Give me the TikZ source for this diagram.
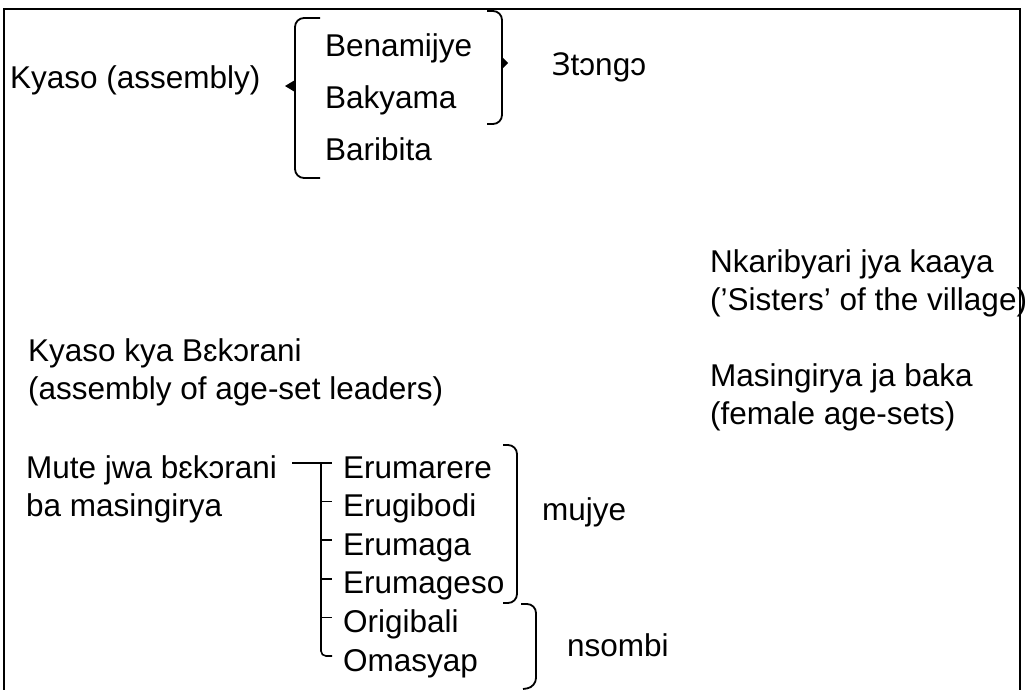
\documentclass[tikz,border=0pt]{standalone}
\usepackage{fontspec}
\setmainfont{Liberation Sans}
\newfontfamily\notosans{Noto Sans}
\begin{document}
\begin{tikzpicture}[
  x=1pt, y=1pt,
  label/.style={anchor=base west, inner sep=0pt, align=left},
  item/.style={anchor=west, inner xsep=11pt, inner ysep=0pt, text height=30pt, text depth=0pt},
  brace/.style={line width=1.8pt, rounded corners=9pt},
  tree/.style={line width=1.6pt},
  font=\fontsize{31.5}{37.5}\selectfont
]
\useasboundingbox (0,0) rectangle (1030,-689);
% frame, open at the bottom
\draw[line width=1.5pt] (4,-690) -- (4,-9) -- (1020,-9) -- (1020,-690);

% assembly
\node[label] (kyaso) at (10,-88) {Kyaso (assembly)};
\node[label] (benamijye) at (325,-56) {Benamijye};
\node[label] (bakyama) at (325,-108) {Bakyama};
\node[label] (baribita) at (325,-160) {Baribita};
\node[label] (etongo) at (552,-75) {{\notosans Ɜ}tɔngɔ};

\draw[brace] (320,-18) -- (295,-18) -- (295,-178) -- (320,-178);
\fill (295,-80) -- (285,-86) -- (295,-92) -- cycle;
\draw[brace] (487,-11) -- (502,-11) -- (502,-124) -- (487,-124);
\fill (502,-57) -- (508,-63) -- (502,-69) -- cycle;

% village and age-sets (base = last line)
\node[label] (nkaribyari) at (710,-310) {Nkaribyari jya kaaya\\(’Sisters’ of the village)};
\node[label] (masingirya) at (710,-424) {Masingirya ja baka\\(female age-sets)};
\node[label] (kyasokya) at (28,-399) {Kyaso kya Bɛkɔrani\\(assembly of age-set leaders)};
\node[label] (mute) at (26,-516) {Mute jwa bɛkɔrani\\ba masingirya};

\foreach \name/\txt [count=\i] in {erumarere/Erumarere, erugibodi/Erugibodi,
    erumaga/Erumaga, erumageso/Erumageso, origibali/Origibali, omasyap/Omasyap}
  \node[item] (\name) at (332,{-463-38.6*(\i-1)}) {\txt};

\coordinate (stem) at (292,-463);
\coordinate (trunk) at (321,-463);
\draw[tree] (stem) -- (erumarere.west);
\draw[tree, rounded corners=5pt] (trunk) |- (omasyap.west);
\foreach \n in {erugibodi, erumaga, erumageso, origibali}
  \draw[tree] (trunk |- \n.west) -- (\n.west);

\draw[brace] (503,-445) -- (517,-445) -- (517,-603) -- (503,-603);
\node[label] (mujye) at (542,-520) {mujye};
\draw[brace] (521,-604) -- (536,-604) -- (536,-687) -- (523,-689);
\node[label] (nsombi) at (567,-656) {nsombi};
\end{tikzpicture}
\end{document}
